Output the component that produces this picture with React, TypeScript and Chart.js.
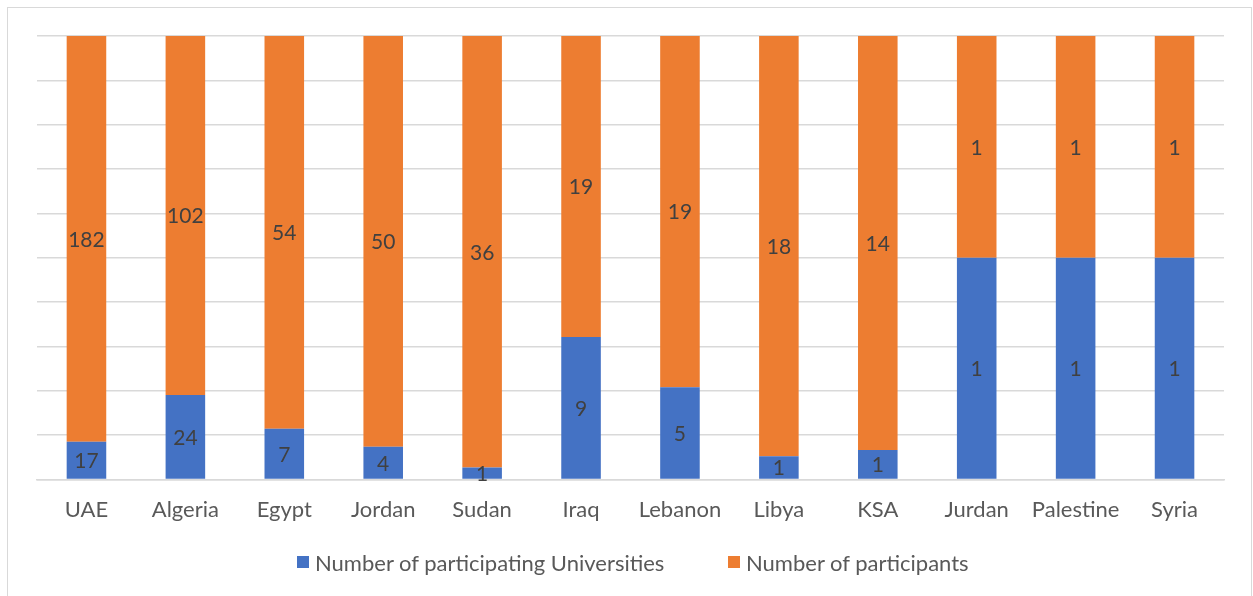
import React, { useEffect, useRef } from "react";
import { Chart, registerables } from "chart.js";

Chart.register(...registerables);

const countries = ["UAE", "Algeria", "Egypt", "Jordan", "Sudan", "Iraq", "Lebanon", "Libya", "KSA", "Jurdan", "Palestine", "Syria"];
const universities = [17, 24, 7, 4, 1, 9, 5, 1, 1, 1, 1, 1];
const participants = [182, 102, 54, 50, 36, 19, 19, 18, 14, 1, 1, 1];
const seriesNames = ["Number of participating Universities", "Number of participants"];

const BLUE = "#4472C4";
const ORANGE = "#ED7D31";
const FONT = "Lato, 'Open Sans', sans-serif";

// Each column is shown as shares of 100 %, labelled with the raw counts.
const totals = countries.map((_, i) => universities[i] + participants[i]);
const uniShare = universities.map((v, i) => (v / totals[i]) * 100);
const partShare = participants.map((v, i) => (v / totals[i]) * 100);
const rawValues = [universities, participants];

const valueLabels = {
  id: "valueLabels",
  afterDatasetsDraw(chart: any) {
    const ctx = chart.ctx;
    ctx.save();
    ctx.font = `21px ${FONT}`;
    ctx.fillStyle = "#404040";
    ctx.textAlign = "center";
    ctx.textBaseline = "middle";
    chart.data.datasets.forEach((_: any, di: number) => {
      const meta = chart.getDatasetMeta(di);
      meta.data.forEach((bar: any, i: number) => {
        const y = (bar.y + bar.base) / 2;
        ctx.fillText(String(rawValues[di][i]), bar.x, y + 1);
      });
    });
    ctx.restore();
  },
};

const legendItem = (left: number, color: string, text: string) => (
  <div key={text} style={{ position: "absolute", left, top: 549, height: 26, display: "flex", alignItems: "center", font: `22px ${FONT}`, color: "#595959", whiteSpace: "nowrap" }}>
    <span style={{ display: "inline-block", width: 12, height: 12, background: color, marginRight: 6 }} />
    {text}
  </div>
);

export default function App() {
  const ref = useRef<HTMLCanvasElement>(null);

  useEffect(() => {
    if (!ref.current) return;
    const chart = new Chart(ref.current, {
      type: "bar",
      data: {
        labels: countries,
        datasets: [
          { label: seriesNames[0], data: uniShare, backgroundColor: BLUE, barPercentage: 0.4, categoryPercentage: 1 },
          { label: seriesNames[1], data: partShare, backgroundColor: ORANGE, barPercentage: 0.4, categoryPercentage: 1 },
        ],
      },
      options: {
        animation: false,
        responsive: false,
        maintainAspectRatio: false,
        layout: { padding: { left: 37, right: 29, top: 36, bottom: 64 } },
        scales: {
          x: {
            stacked: true,
            grid: { display: false },
            border: { color: "#d9d9d9", width: 1.5 },
            ticks: { color: "#595959", font: { family: FONT, size: 22 }, padding: 9 },
          },
          y: {
            stacked: true,
            min: 0,
            max: 100,
            ticks: { display: false, stepSize: 10 },
            grid: { color: "#d9d9d9", lineWidth: 1.5, drawTicks: false },
            border: { display: false },
          },
        },
        plugins: {
          tooltip: { enabled: false },
          legend: { display: false },
        },
      },
      plugins: [valueLabels],
    });
    return () => chart.destroy();
  }, []);

  return (
    <div style={{ position: "fixed", left: 0, top: 0, width: 1253, height: 596, background: "#fff", overflow: "hidden" }}>
      <div style={{ position: "absolute", left: 7, top: 7, width: 1243, height: 600, border: "1.5px solid #d9d9d9" }} />
      <canvas ref={ref} width={1253} height={596} style={{ position: "absolute", left: 0, top: 0 }} />
      {legendItem(297, BLUE, seriesNames[0])}
      {legendItem(728, ORANGE, seriesNames[1])}
    </div>
  );
}
